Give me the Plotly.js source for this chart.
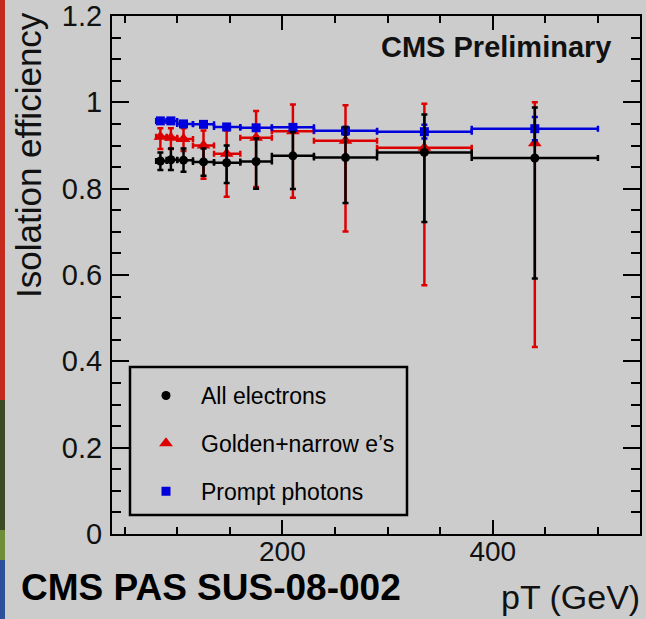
<!DOCTYPE html>
<html>
<head>
<meta charset="utf-8">
<script src="https://cdn.plot.ly/plotly-3.0.1.min.js"></script>
<style>
  html, body { margin: 0; padding: 0; background: #cccccc; }
  #chart { width: 646px; height: 619px; }
</style>
</head>
<body>
<div id="chart"></div>
<script>
// ---- data ----
const pt      = [84, 94, 106, 125, 147, 175, 210, 260, 335, 440];
const binLo   = [80, 90, 100, 115, 135, 160, 190, 230, 290, 380];
const binHi   = [90, 100, 115, 135, 160, 190, 230, 290, 380, 500];

// All electrons
const allEff   = [0.864, 0.867, 0.866, 0.862, 0.860, 0.863, 0.876, 0.872, 0.884, 0.871];
const allErrHi = [0.020, 0.026, 0.027, 0.031, 0.040, 0.053, 0.055, 0.071, 0.088, 0.117];
const allErrLo = [0.021, 0.024, 0.027, 0.032, 0.047, 0.063, 0.077, 0.105, 0.161, 0.279];

// Golden+narrow e's
const goldBinLo = [80, 90, 100, 115, 135, 160, 190, 230, 290, 440];
const goldBinHi = [90, 100, 115, 135, 160, 190, 230, 290, 380, 440];
const goldEff   = [0.920, 0.918, 0.915, 0.900, 0.881, 0.918, 0.933, 0.911, 0.895, 0.905];
const goldErrHi = [0.020, 0.022, 0.025, 0.035, 0.054, 0.062, 0.062, 0.082, 0.102, 0.095];
const goldErrLo = [0.028, 0.026, 0.028, 0.077, 0.100, 0.114, 0.154, 0.210, 0.319, 0.472];

// Prompt photons
const photEff = [0.957, 0.957, 0.950, 0.949, 0.943, 0.941, 0.942, 0.934, 0.932, 0.939];
const photErr = [0.004, 0.004, 0.004, 0.005, 0.005, 0.006, 0.007, 0.009, 0.016, 0.027];

const seriesNames = ['All electrons', 'Golden+narrow e\u2019s', 'Prompt photons'];
const xTitle = 'pT (GeV)';
const yTitle = 'Isolation efficiency';

// ---- layout geometry ----
const WIDTH = 646, HEIGHT = 619;
const M = {l: 112, r: 6, t: 16, b: 85};
const PW = WIDTH - M.l - M.r, PH = HEIGHT - M.t - M.b;
const px2x = p => (p - M.l) / PW;
const py2y = p => 1 - (p - M.t) / PH;

const BLACK = '#000000', RED = '#dd0000', BLUE = '#0000dd';
const ETH = 2.5;

function xErr(lo, hi, xs) {
  return {
    type: 'data', symmetric: false,
    array: xs.map((v, i) => hi[i] - v),
    arrayminus: xs.map((v, i) => v - lo[i]),
    thickness: ETH, width: 3
  };
}

const traceGold = {
  type: 'scatter', mode: 'markers', name: seriesNames[1],
  x: pt, y: goldEff, legendrank: 2, legendgroup: 'g2',
  marker: {symbol: 'triangle-up', size: 12, color: RED},
  error_y: {type: 'data', symmetric: false, array: goldErrHi, arrayminus: goldErrLo, color: RED, thickness: ETH, width: 3},
  error_x: Object.assign(xErr(goldBinLo, goldBinHi, pt), {color: RED})
};
const tracePhot = {
  type: 'scatter', mode: 'markers', name: seriesNames[2],
  x: pt, y: photEff, legendrank: 3, legendgroup: 'g3',
  marker: {symbol: 'square', size: 9, color: BLUE},
  error_y: {type: 'data', array: photErr, color: BLUE, thickness: ETH, width: 3},
  error_x: Object.assign(xErr(binLo, binHi, pt), {color: BLUE})
};
const traceAll = {
  type: 'scatter', mode: 'markers', name: seriesNames[0],
  x: pt, y: allEff, legendrank: 1, legendgroup: 'g1',
  marker: {symbol: 'circle', size: 9, color: BLACK},
  error_y: {type: 'data', symmetric: false, array: allErrHi, arrayminus: allErrLo, color: BLACK, thickness: ETH, width: 3},
  error_x: Object.assign(xErr(binLo, binHi, pt), {color: BLACK})
};

const FONT = 'Liberation Sans, Arial, Helvetica, sans-serif';

const layout = {
  width: WIDTH, height: HEIGHT,
  margin: M,
  paper_bgcolor: '#cccccc', plot_bgcolor: '#cccccc',
  font: {family: FONT, color: '#000'},
  showlegend: true,
  legend: {
    x: px2x(131), y: py2y(374), xanchor: 'left', yanchor: 'top',
    bgcolor: 'rgba(0,0,0,0)', borderwidth: 0,
    font: {family: FONT, size: 23, color: '#000'},
    itemwidth: 60, traceorder: 'grouped', tracegroupgap: 15,
    itemclick: false
  },
  xaxis: {
    range: [38, 540], tick0: 0, dtick: 200,
    showgrid: false, zeroline: false,
    showline: true, linecolor: '#000', linewidth: 2, mirror: 'allticks',
    ticks: 'inside', ticklen: 14, tickwidth: 2, tickcolor: '#000',
    ticklabelstandoff: -9,
    minor: {dtick: 50, ticks: 'inside', ticklen: 7, tickwidth: 2, tickcolor: '#000', showgrid: false},
    tickfont: {family: FONT, size: 28, color: '#111'}
  },
  yaxis: {
    range: [0, 1.2], tick0: 0, dtick: 0.2,
    showgrid: false, zeroline: false,
    showline: true, linecolor: '#000', linewidth: 2, mirror: 'allticks',
    ticks: 'inside', ticklen: 17, tickwidth: 2, tickcolor: '#000',
    ticklabelstandoff: 2,
    minor: {dtick: 0.05, ticks: 'inside', ticklen: 9, tickwidth: 2, tickcolor: '#000', showgrid: false},
    tickfont: {family: FONT, size: 29, color: '#111'}
  },
  shapes: [
    {type: 'rect', xref: 'paper', yref: 'paper', x0: px2x(130), x1: px2x(407), y0: py2y(515), y1: py2y(367),
     line: {color: '#000', width: 2.5}, fillcolor: 'rgba(0,0,0,0)'},
    // decorative slide edge on the far left
    {type: 'rect', xref: 'paper', yref: 'paper', x0: px2x(0), x1: px2x(5), y0: py2y(400), y1: py2y(0),
     line: {width: 0}, fillcolor: '#c42a1e', layer: 'above'},
    {type: 'rect', xref: 'paper', yref: 'paper', x0: px2x(0), x1: px2x(5), y0: py2y(530), y1: py2y(400),
     line: {width: 0}, fillcolor: '#3a4a24', layer: 'above'},
    {type: 'rect', xref: 'paper', yref: 'paper', x0: px2x(0), x1: px2x(5), y0: py2y(560), y1: py2y(530),
     line: {width: 0}, fillcolor: '#6e8e3a', layer: 'above'},
    {type: 'rect', xref: 'paper', yref: 'paper', x0: px2x(0), x1: px2x(5), y0: py2y(619), y1: py2y(560),
     line: {width: 0}, fillcolor: '#2e4f9a', layer: 'above'}
  ],
  annotations: [
    {text: yTitle, textangle: -90, xref: 'paper', yref: 'paper',
     x: px2x(28), y: py2y(10), xanchor: 'center', yanchor: 'top', showarrow: false,
     font: {family: FONT, size: 35, color: '#111'}},
    {text: xTitle, xref: 'paper', yref: 'paper',
     x: px2x(642), y: py2y(597), xanchor: 'right', yanchor: 'middle', showarrow: false,
     font: {family: FONT, size: 34, color: '#111'}},
    {text: '<b>CMS Preliminary</b>', xref: 'paper', yref: 'paper',
     x: px2x(496), y: py2y(47), xanchor: 'center', yanchor: 'middle', showarrow: false,
     font: {family: FONT, size: 29, color: '#111'}},
    {text: '<b>CMS PAS SUS-08-002</b>', xref: 'paper', yref: 'paper',
     x: px2x(19), y: py2y(587), xanchor: 'left', yanchor: 'middle', showarrow: false,
     font: {family: FONT, size: 37, color: '#000'}}
  ]
};

Plotly.newPlot('chart', [traceGold, tracePhot, traceAll], layout, {displayModeBar: false, staticPlot: true});
</script>
</body>
</html>
